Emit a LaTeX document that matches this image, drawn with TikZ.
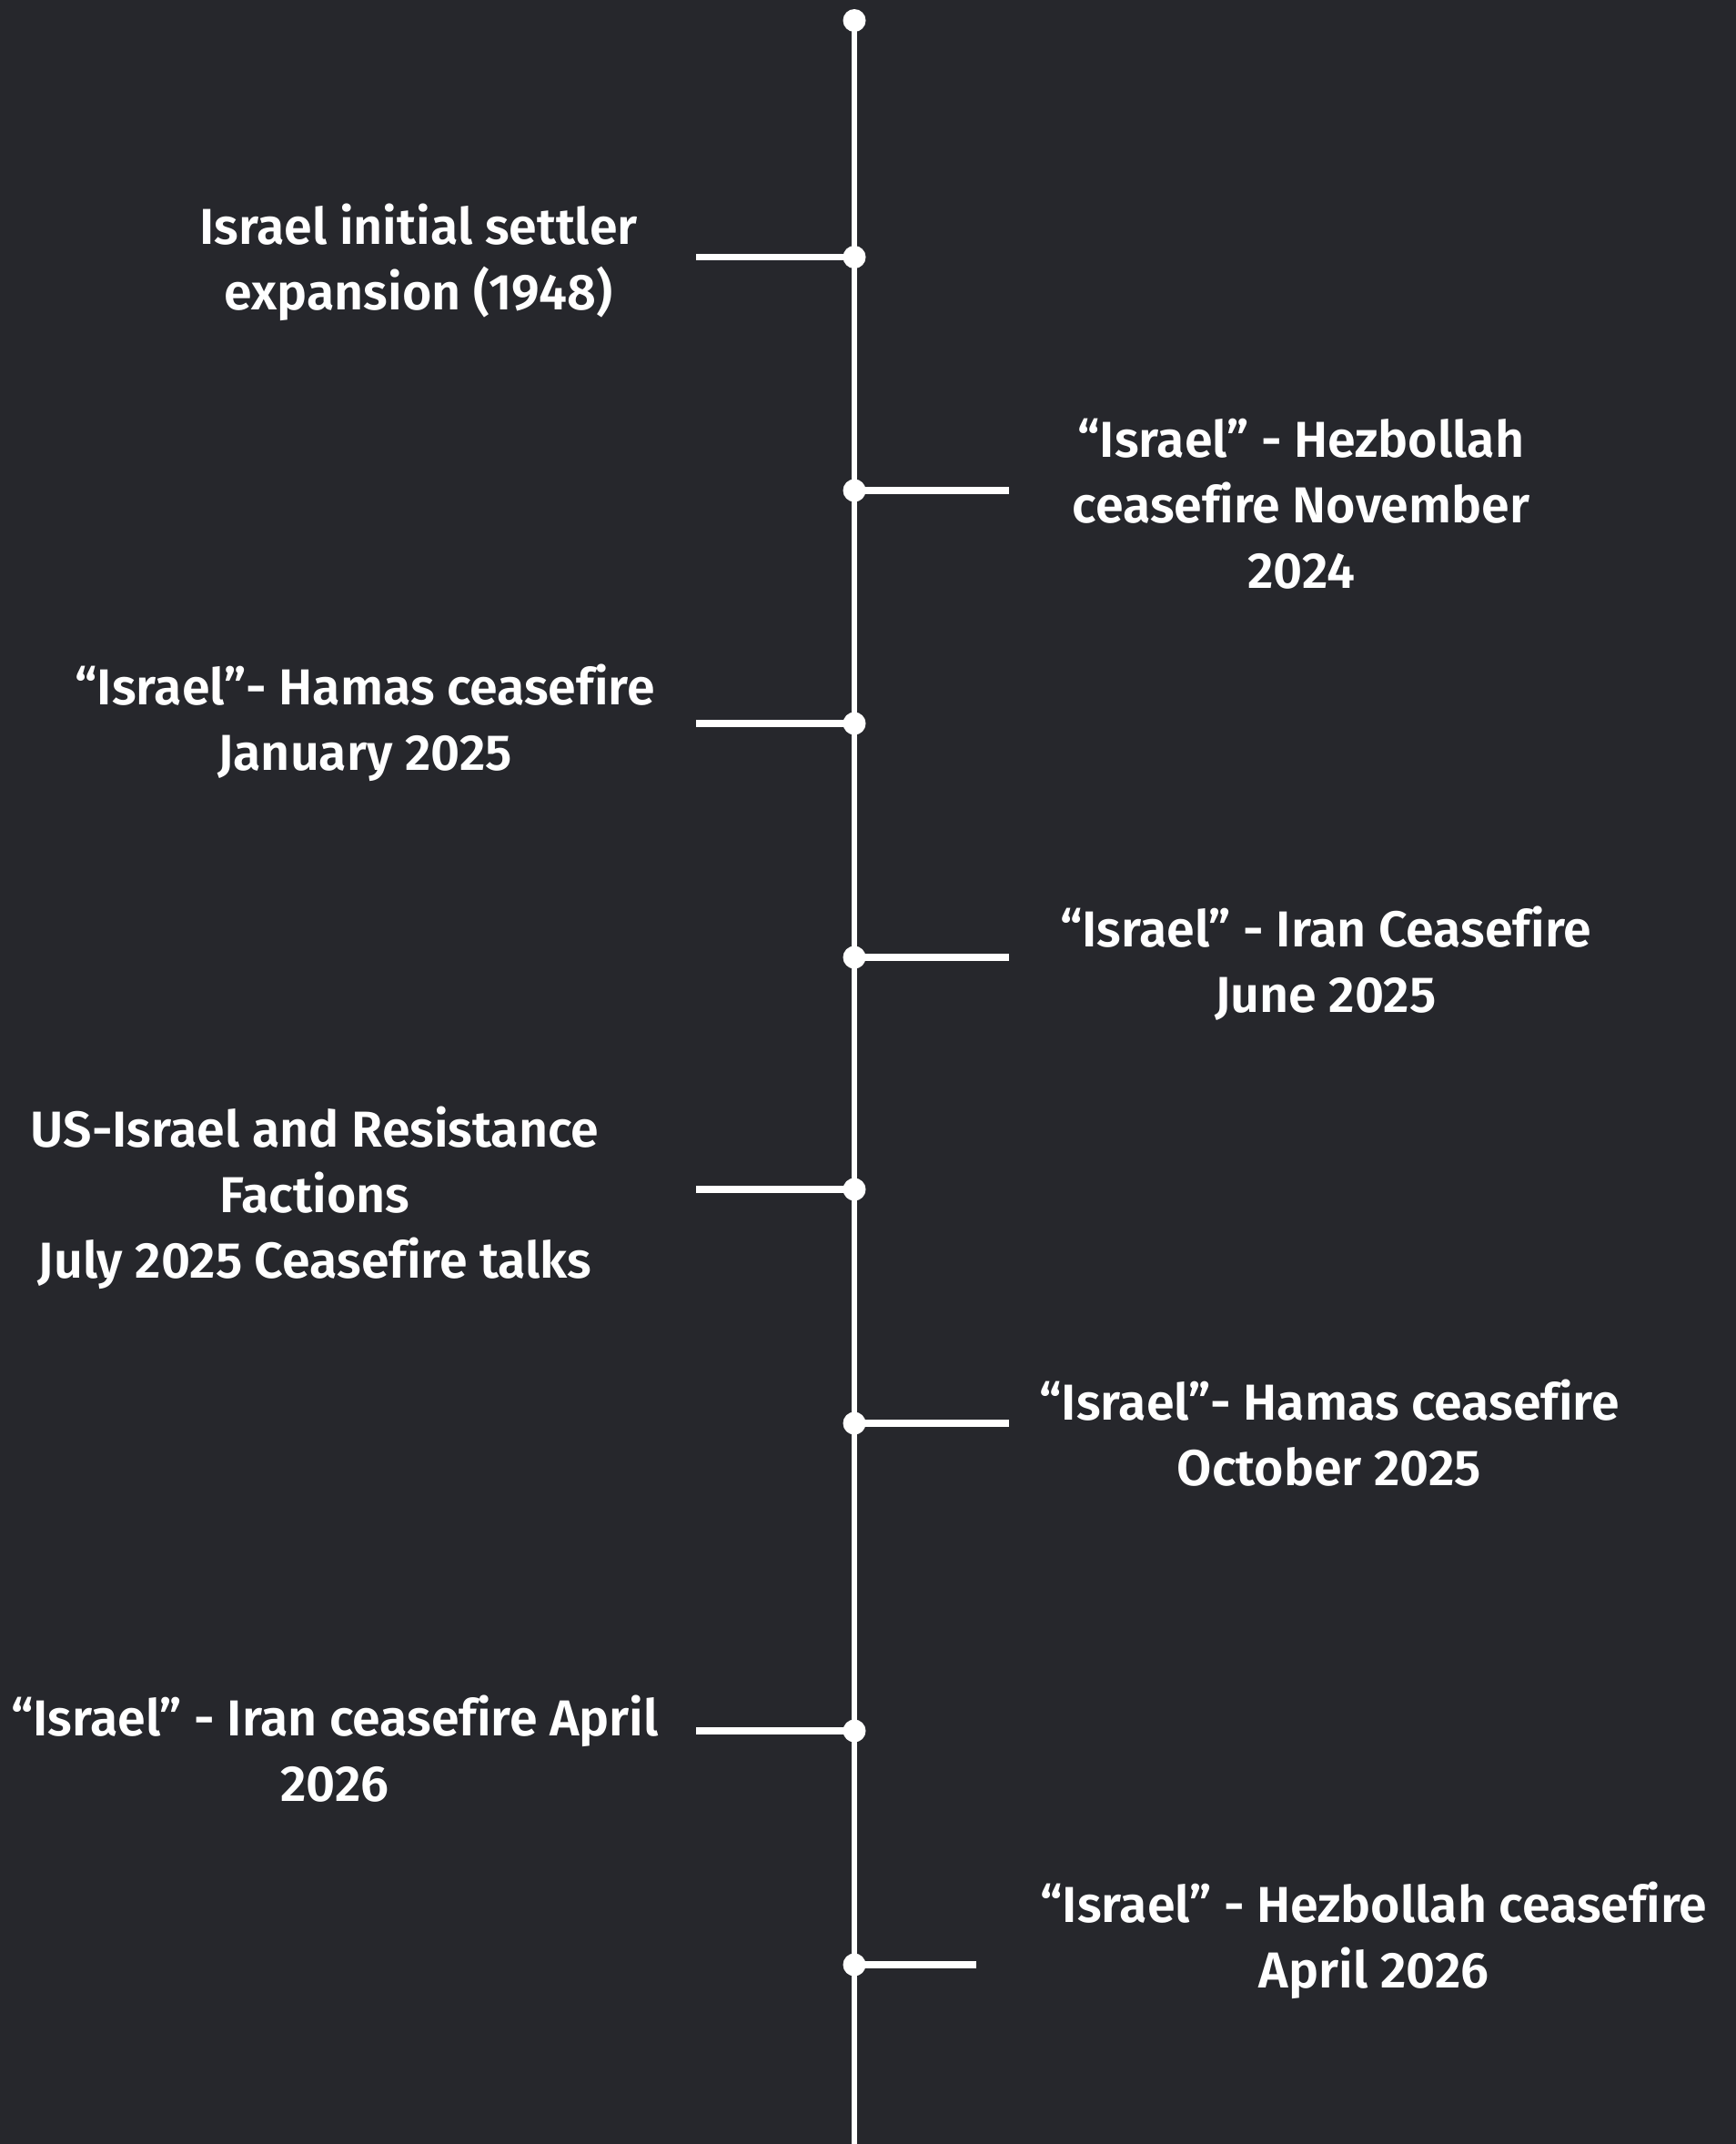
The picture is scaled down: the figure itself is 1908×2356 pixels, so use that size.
\documentclass[tikz,border=0pt]{standalone}
\usepackage{fontspec}
\setmainfont{Fira Sans}[UprightFont=* SemiBold,Ligatures=NoCommon]
\definecolor{bg}{HTML}{26272C}
\begin{document}
\begin{tikzpicture}[x=1pt,y=-1pt,
  evt/.style={align=center,text=white,inner sep=0pt,font=\fontsize{55.5}{72}\selectfont},
  dotnode/.style={circle,fill=white,inner sep=0pt,minimum size=25pt},
  axis/.style={draw=white,line width=6.7pt},
  tick/.style={draw=white,line width=7.3pt}]
\fill[bg] (0,0) rectangle (1908,2356);
\useasboundingbox (0,0) rectangle (1908,2356);
\node[dotnode] (top) at (939,22.5) {};
\coordinate (bot) at (939,2360);
\draw[axis] (top.center) -- (bot);
\foreach \n/\y in {d1/282.5,d2/539,d3/795,d4/1052,d5/1307,d6/1564,d7/1902,d8/2159}{
  \node[dotnode] (\n) at (939,\y) {};
}
\coordinate (e1) at (765,282.5);
\coordinate (e2) at (1109,539);
\coordinate (e3) at (765,795);
\coordinate (e4) at (1109,1052);
\coordinate (e5) at (765,1307);
\coordinate (e6) at (1109,1564);
\coordinate (e7) at (765,1902);
\coordinate (e8) at (1073,2159);
\foreach \i in {1,...,8}{ \draw[tick] (d\i.center) -- (e\i); }
\node[evt] (t1) at (460,288) {Israel initial settler\\expansion (1948)};
\node[evt] (t2) at (1430,554) {“Israel” - Hezbollah\\ceasefire November\\2024};
\node[evt] (t3) at (401,794) {“Israel”- Hamas ceasefire\\January 2025};
\node[evt] (t4) at (1457,1059) {“Israel” - Iran Ceasefire\\June 2025};
\node[evt] (t5) at (346,1316) {US-Israel and Resistance\\Factions\\July 2025 Ceasefire talks};
\node[evt] (t6) at (1461,1575) {“Israel”- Hamas ceasefire\\October 2025};
\node[evt] (t7) at (368,1922) {“Israel” - Iran ceasefire April\\2026};
\node[evt] (t8) at (1510,2132) {“Israel” - Hezbollah ceasefire\\April 2026};
\end{tikzpicture}
\end{document}
